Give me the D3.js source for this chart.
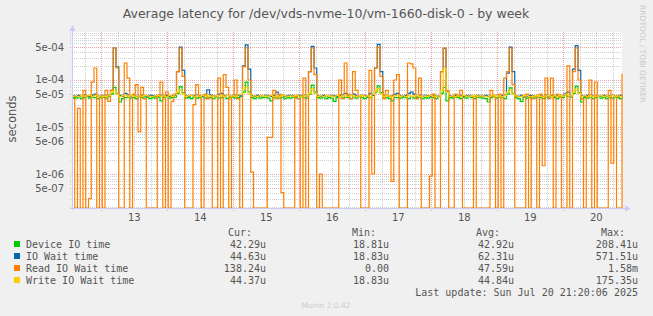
<!DOCTYPE html>
<html>
<head>
<meta charset="utf-8">
<script src="https://cdn.jsdelivr.net/npm/d3@7"></script>
<style>
  body { margin: 0; background: #f0f0f0; }
  svg { display: block; font-family: "DejaVu Sans", sans-serif; }
  .tick-label { font-size: 10px; fill: #555; }
  .legend text { font-family: "DejaVu Sans Mono", monospace; font-size: 10px; fill: #555; }
</style>
</head>
<body>
<div id="chart"></div>
<script>
// hourly samples, microseconds, Jul 12 13:20 -> Jul 20 21:20
var startTime = new Date(2025, 6, 12, 13, 20);
var endTime = new Date(2025, 6, 20, 21, 20);

var deviceIO = [
  42, 41, 43, 40, 42, 44, 41, 43, 42, 40,
  42, 43, 41, 44, 50, 70, 52, 34, 40, 42,
  43, 41, 42, 40, 44, 42, 41, 43, 40, 42,
  41, 43, 36, 42, 44, 41, 42, 43, 52, 72,
  54, 41, 42, 40, 43, 41, 42, 44, 41, 43,
  42, 40, 43, 41, 42, 44, 40, 42, 43, 41,
  42, 44, 55, 90, 56, 42, 40, 43, 41, 42,
  43, 41, 36, 42, 44, 41, 43, 40, 42, 41,
  43, 42, 40, 44, 42, 41, 50, 78, 56, 42,
  41, 43, 40, 42, 41, 35, 42, 44, 41, 43,
  42, 40, 43, 41, 44, 42, 40, 43, 42, 48,
  55, 75, 54, 41, 42, 40, 36, 43, 42, 41,
  43, 42, 40, 44, 41, 42, 43, 40, 42, 41,
  43, 42, 40, 44, 52, 70, 36, 42, 41, 43,
  42, 40, 43, 41, 44, 42, 40, 43, 42, 41,
  40, 34, 42, 44, 41, 43, 42, 40, 50, 68,
  52, 42, 40, 35, 43, 41, 42, 44, 41, 43,
  42, 40, 43, 41, 44, 42, 40, 43, 42, 48,
  44, 43, 52, 74, 54, 34, 42, 41, 43, 40,
  42, 44, 41, 43, 40, 42, 41, 43, 42, 40,
  42.29
];

var ioWait = [
  46, 45, 47, 46, 48, 46, 45, 47, 50, 46,
  45, 47, 46, 48, 60, 480, 190, 47, 45, 52,
  48, 46, 47, 45, 46, 48, 46, 45, 47, 46,
  45, 47, 48, 46, 47, 45, 46, 47, 150, 500,
  160, 46, 45, 47, 46, 48, 46, 45, 47, 62,
  48, 46, 45, 50, 52, 46, 47, 45, 46, 48,
  47, 46, 200, 560, 170, 46, 45, 47, 46, 45,
  47, 46, 45, 47, 55, 46, 47, 45, 46, 47,
  46, 45, 47, 46, 48, 46, 150, 520, 180, 46,
  45, 47, 46, 45, 47, 46, 45, 47, 48, 52,
  46, 47, 50, 46, 45, 47, 46, 45, 52, 47,
  180, 571, 150, 46, 47, 45, 46, 50, 52, 46,
  45, 47, 52, 55, 50, 46, 48, 45, 47, 46,
  45, 47, 46, 45, 150, 470, 58, 46, 45, 47,
  46, 47, 45, 46, 47, 45, 46, 47, 45, 46,
  47, 45, 46, 47, 45, 46, 47, 48, 140, 500,
  150, 46, 45, 47, 46, 45, 47, 46, 45, 47,
  46, 45, 48, 46, 47, 45, 46, 47, 45, 52,
  55, 46, 170, 540, 160, 46, 45, 47, 48, 46,
  47, 45, 46, 47, 45, 46, 47, 45, 46, 47,
  44.63
];

var readIOWait = [
  40, 0, 25, 0, 60, 0, 0.3, 90, 180, 0,
  45, 0, 60, 35, 60, 480, 180, 0, 0, 230,
  110, 0, 50, 80, 8, 70, 40, 0, 0, 0,
  0, 45, 90, 0, 55, 0, 35, 50, 150, 480,
  120, 0, 0, 0, 30, 80, 45, 0, 50, 40,
  45, 0, 0, 110, 0, 130, 70, 0, 45, 100,
  40, 0, 190, 480, 100, 1.1, 0, 0, 0, 0,
  0, 6, 6, 60, 40, 50, 0.4, 0, 0, 0,
  0, 45, 40, 0, 110, 0, 150, 480, 130, 0,
  1.0, 0, 0, 0, 0, 0, 0, 100, 40, 230,
  50, 40, 150, 60, 45, 0, 0, 0, 160, 1.0,
  180, 500, 120, 40, 60, 45, 0.7, 100, 130, 0,
  0, 0, 230, 220, 180, 40, 110, 0, 0, 0,
  0.9, 50, 0, 0, 150, 480, 60, 0, 0, 50,
  45, 60, 0, 0, 0, 0, 45, 0, 0, 0,
  0, 0, 60, 45, 0, 50, 0, 110, 150, 480,
  80, 0, 0, 0, 0, 50, 0, 40, 45, 0,
  50, 1.5, 110, 40, 110, 0, 50, 45, 0, 0,
  200, 0, 150, 480, 100, 40, 0, 45, 100, 0,
  90, 0, 0, 0, 0, 60, 1.7, 45, 0, 0,
  138
];

var writeIOWait = [
  45, 46, 44, 47, 45, 46, 48, 45, 47, 46,
  44, 46, 45, 47, 55, 60, 50, 45, 46, 48,
  45, 47, 46, 44, 46, 45, 47, 46, 45, 44,
  46, 47, 45, 46, 44, 47, 45, 48, 55, 62,
  50, 45, 46, 47, 44, 46, 45, 47, 46, 48,
  45, 46, 44, 47, 46, 45, 47, 44, 46, 45,
  48, 50, 64, 70, 50, 45, 46, 44, 47, 45,
  46, 45, 47, 44, 46, 45, 47, 46, 44, 46,
  45, 47, 46, 44, 48, 46, 52, 65, 52, 45,
  46, 44, 47, 45, 46, 44, 47, 45, 46, 48,
  45, 47, 46, 44, 46, 47, 45, 46, 44, 50,
  58, 66, 50, 45, 47, 46, 44, 46, 47, 45,
  46, 44, 47, 45, 46, 47, 45, 44, 46, 45,
  47, 45, 46, 44, 60, 175, 55, 45, 46, 44,
  46, 45, 47, 44, 46, 45, 47, 46, 44, 46,
  45, 44, 46, 47, 45, 46, 44, 47, 55, 62,
  50, 46, 44, 45, 47, 46, 44, 45, 46, 47,
  45, 44, 46, 47, 45, 46, 44, 47, 45, 50,
  48, 46, 55, 64, 52, 45, 46, 44, 47, 45,
  46, 44, 47, 45, 46, 44, 47, 45, 46, 45,
  44.37
];

var seriesNames = ["Device IO time", "IO Wait time", "Read IO Wait time", "Write IO Wait time"];
var seriesColors = ["#00cc00", "#0066b3", "#ff8000", "#ffcc00"];
var legendCur = ["42.29u", "44.63u", "138.24u", "44.37u"];
var legendMin = ["18.81u", "18.83u", "0.00", "18.83u"];
var legendAvg = ["42.92u", "62.31u", "47.59u", "44.84u"];
var legendMax = ["208.41u", "571.51u", "1.58m", "175.35u"];

var yTickValues = [5e-4, 1e-4, 5e-5, 1e-5, 5e-6, 1e-6, 5e-7];
var yTickLabels = ["5e-04", "1e-04", "5e-05", "1e-05", "5e-06", "1e-06", "5e-07"];

var render = function() {
  var width = 653, height = 316;
  var plot = { left: 72, right: 622, top: 32, bottom: 208 };

  var svg = d3.select("#chart").append("svg")
    .attr("width", width)
    .attr("height", height);

  svg.append("rect").attr("width", width).attr("height", height).attr("fill", "#f0f0f0");
  svg.append("rect")
    .attr("x", plot.left).attr("y", plot.top)
    .attr("width", plot.right - plot.left).attr("height", plot.bottom - plot.top)
    .attr("fill", "#fff");

  var xScale = d3.scaleTime().domain([startTime, endTime]).range([plot.left, plot.right]);
  var yScale = d3.scaleLog().domain([1.891e-7, 1.05e-3]).range([plot.bottom, plot.top]).clamp(true);

  // grid
  var grid = svg.append("g").attr("shape-rendering", "crispEdges");
  var hours = d3.timeHour.every(6).range(startTime, endTime);
  hours.forEach(function(t) {
    var x = Math.round(xScale(t)) + 0.5;
    var major = t.getHours() === 0;
    grid.append("line")
      .attr("x1", x).attr("x2", x)
      .attr("y1", plot.top).attr("y2", plot.bottom + (major ? 3 : 0))
      .attr("stroke", major ? "#e9a3a3" : "#cfcfcf")
      .attr("stroke-dasharray", "1,1");
  });

  var minor = [];
  for (var e = -7; e <= -3; e++) {
    for (var m = 1; m <= 9; m++) {
      var v = m * Math.pow(10, e);
      if (v >= yScale.domain()[0] && v <= yScale.domain()[1]) minor.push(v);
    }
  }
  minor.forEach(function(v) {
    var major = yTickValues.some(function(t) { return Math.abs(t - v) / t < 1e-6; });
    var y = Math.round(yScale(v)) + 0.5;
    grid.append("line")
      .attr("x1", plot.left - 2).attr("x2", plot.right)
      .attr("y1", y).attr("y2", y)
      .attr("stroke", major ? "#e9a3a3" : "#cfcfcf")
      .attr("stroke-dasharray", "1,1");
  });

  // series lines
  svg.append("clipPath").attr("id", "plot-clip")
    .append("rect")
    .attr("x", plot.left).attr("y", plot.top - 1)
    .attr("width", plot.right - plot.left + 1).attr("height", plot.bottom - plot.top + 1);

  var line = d3.line()
    .curve(d3.curveStepAfter)
    .x(function(d, i) { return xScale(d3.timeHour.offset(startTime, i)); })
    .y(function(d) { return yScale(d > 0 ? d * 1e-6 : yScale.domain()[0]); });

  var lines = svg.append("g").attr("clip-path", "url(#plot-clip)");
  [deviceIO, ioWait, readIOWait, writeIOWait].forEach(function(values, k) {
    lines.append("path")
      .attr("d", line(values))
      .attr("fill", "none")
      .attr("stroke", seriesColors[k])
      .attr("stroke-width", 1.2);
  });

  // axes
  var axisColor = "#c8ccf4";
  svg.append("line")
    .attr("x1", plot.left + 0.5).attr("x2", plot.left + 0.5)
    .attr("y1", plot.bottom + 2).attr("y2", plot.top - 3)
    .attr("stroke", axisColor);
  svg.append("path")
    .attr("d", "M69.5,31L75.5,31L72.5,25Z")
    .attr("fill", axisColor);
  svg.append("line")
    .attr("x1", plot.left - 2).attr("x2", plot.right + 4)
    .attr("y1", plot.bottom + 0.5).attr("y2", plot.bottom + 0.5)
    .attr("stroke", axisColor);
  svg.append("path")
    .attr("d", "M625,205.5L625,211.5L631,208.5Z")
    .attr("fill", axisColor);

  // y labels
  svg.append("g").selectAll("text")
    .data(yTickValues)
    .enter().append("text")
    .attr("class", "tick-label")
    .attr("x", 64)
    .attr("y", function(d) { return yScale(d) + 3.5; })
    .attr("text-anchor", "end")
    .text(function(d, i) { return yTickLabels[i]; });

  // x labels at noon
  var noons = d3.timeDay.range(startTime, endTime).map(function(d) { return d3.timeHour.offset(d, 12); })
    .filter(function(d) { return d > startTime && d < endTime; });
  svg.append("g").selectAll("text")
    .data(noons)
    .enter().append("text")
    .attr("class", "tick-label")
    .attr("x", function(d) { return xScale(d); })
    .attr("y", 221)
    .attr("text-anchor", "middle")
    .text(function(d) { return d.getDate(); });

  // title and labels
  svg.append("text")
    .attr("x", 326).attr("y", 18)
    .attr("text-anchor", "middle")
    .attr("font-size", 12.5)
    .attr("fill", "#555")
    .text("Average latency for /dev/vds-nvme-10/vm-1660-disk-0 - by week");

  svg.append("text")
    .attr("transform", "translate(16,119) rotate(-90)")
    .attr("text-anchor", "middle")
    .attr("font-size", 11.5)
    .attr("fill", "#555")
    .text("seconds");

  svg.append("text")
    .attr("transform", "translate(640,5) rotate(90)")
    .attr("font-size", 7.6)
    .attr("fill", "#c8c8c8")
    .text("RRDTOOL / TOBI OETIKER");

  // legend
  var legend = svg.append("g").attr("class", "legend");
  var cols = [
    { head: "Cur:", hx: 252, vx: 266, vals: legendCur },
    { head: "Min:", hx: 376, vx: 389, vals: legendMin },
    { head: "Avg:", hx: 500, vx: 514, vals: legendAvg },
    { head: "Max:", hx: 625, vx: 638, vals: legendMax }
  ];
  cols.forEach(function(c) {
    legend.append("text").attr("x", c.hx).attr("y", 236).attr("text-anchor", "end").text(c.head);
    c.vals.forEach(function(v, i) {
      legend.append("text").attr("x", c.vx).attr("y", 248 + i * 12).attr("text-anchor", "end").text(v);
    });
  });
  seriesNames.forEach(function(name, i) {
    legend.append("rect")
      .attr("x", 14).attr("y", 241 + i * 12)
      .attr("width", 6).attr("height", 6)
      .attr("fill", seriesColors[i]);
    legend.append("text").attr("x", 26).attr("y", 248 + i * 12).text(name);
  });
  legend.append("text").attr("x", 638).attr("y", 296).attr("text-anchor", "end")
    .text("Last update: Sun Jul 20 21:20:06 2025");

  svg.append("text")
    .attr("x", 326).attr("y", 308)
    .attr("text-anchor", "middle")
    .attr("font-size", 7.5)
    .attr("fill", "#ccc")
    .text("Munin 2.0.42");
};

window.onload = render;
</script>
</body>
</html>
